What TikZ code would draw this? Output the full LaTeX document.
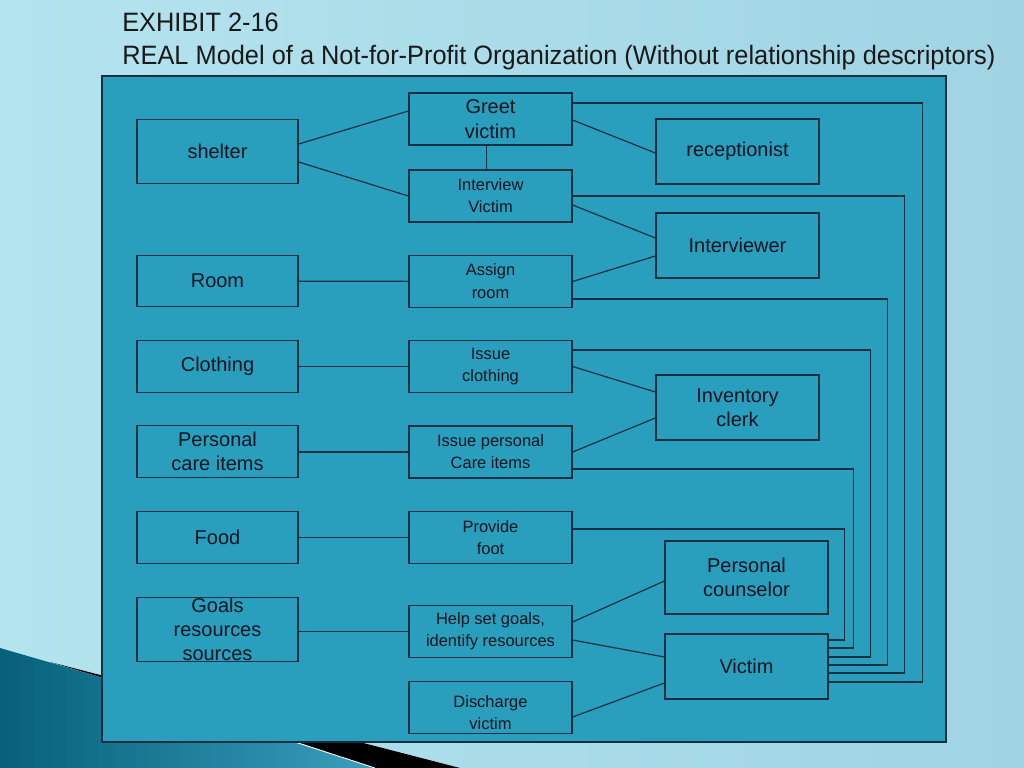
\documentclass[tikz,border=0pt]{standalone}
\usepackage{fontspec}
\setmainfont{Liberation Sans}
\usetikzlibrary{calc}
\definecolor{panelblue}{RGB}{42,159,189}
\definecolor{edgeblue}{RGB}{18,48,66}
\definecolor{inkblue}{RGB}{10,20,32}
\definecolor{skylight}{RGB}{200,238,245}
\definecolor{skyleft}{RGB}{180,228,238}
\definecolor{skyright}{RGB}{160,212,228}
\definecolor{swooshdark}{RGB}{6,96,122}
\definecolor{swooshlight}{RGB}{58,158,188}
\tikzset{
  entity/.style={draw=edgeblue, line width=0.85pt, fill=panelblue, minimum width=4.025cm, minimum height=1.28cm, inner sep=0pt, align=center, text=inkblue, font=\fontsize{14.2}{17}\selectfont},
  process/.style={entity, minimum width=4.075cm, minimum height=1.3cm, font=\fontsize{11.7}{15.5}\selectfont},
  agent/.style={entity, minimum width=4.075cm, minimum height=1.625cm},
  link/.style={draw=edgeblue, line width=0.85pt},
  heading/.style={anchor=base west, inner sep=0pt, text=black!90, font=\fontsize{18.9}{22}\selectfont}
}
\begin{document}
\begin{tikzpicture}[x=0.025cm, y=-0.025cm]
  \useasboundingbox (0,0) rectangle (1024,768);
  \shade[left color=skyleft, middle color=skylight, right color=skyright] (0,0) rectangle (1024,768);
  \fill[black] (50,662) -- (460,768) -- (375,768) -- (100,677) -- cycle;
  \shade[left color=swooshdark, right color=swooshlight] (0,648) -- (100,677) -- (375,768) -- (0,768) -- cycle;
  \draw[white, line width=0.6pt] (295,742) -- (375,768);
  \draw[edgeblue, line width=0.85pt, fill=panelblue] (102,76) rectangle (946,742);

  \node[heading] (exhibit) at (122,32) {\scalebox{0.955}[1]{EXHIBIT 2-16}};
  \node[heading] (caption) at (122,65) {\scalebox{0.955}[1]{REAL Model of a Not-for-Profit Organization (Without relationship descriptors)}};

  \node[entity, minimum height=1.6cm] (shelter) at (217.5,151.5) {shelter};
  \node[entity] (room) at (217.5,281) {Room};
  \node[entity] (clothing) at (217.5,366.5) {Clothing};
  \node[entity] (care) at (217.5,451.5) {Personal\\care items};
  \node[entity] (food) at (217.5,537.5) {Food};
  \node[entity, minimum height=1.6cm] (goals) at (217.5,629.5) {};
  \node[entity, draw=none, fill=none] (goalstext) at (goals.center) {Goals\\resources\\sources};

  \node[process, font=\fontsize{14.2}{17.5}\selectfont] (greet) at (490.5,119) {Greet\\victim};
  \node[process] (interview) at (490.5,196) {Interview\\Victim};
  \node[process, font=\fontsize{11.7}{16.4}\selectfont] (assign) at (490.5,281.5) {Assign\\room};
  \node[process] (issuecl) at (490.5,366.5) {Issue\\clothing};
  \node[process] (issuecare) at (490.5,452) {Issue personal\\Care items};
  \node[process] (provide) at (490.5,537.5) {Provide\\foot};
  \node[process] (help) at (490.5,631.5) {Help set goals,\\identify resources};
  \node[process] (discharge) at (490.5,707.5) {};
  \node[process, draw=none, fill=none] (dischargetext) at ($(discharge.center)+(0,5.5)$) {Discharge\\victim};

  \node[agent] (recep) at (737.5,151.5) {receptionist};
  \node[agent] (interviewer) at (737.5,245.5) {Interviewer};
  \node[agent] (inventory) at (737.5,407.5) {Inventory\\clerk};
  \node[agent, minimum height=1.825cm] (counselor) at (746.5,577.5) {Personal\\counselor};
  \node[agent] (victim) at (746.5,666.5) {Victim};

  \draw[link] ($(shelter.east)+(0,-7.5)$) -- ($(greet.west)+(0,-8)$);
  \draw[link] ($(shelter.east)+(0,10.5)$) -- (interview.west);
  \draw[link] ($(greet.south)+(-4,0)$) -- ($(interview.north)+(-4,0)$);
  \draw[link] (room) -- (assign);
  \draw[link] (clothing) -- (issuecl);
  \draw[link] (issuecare.west) -- (issuecare.west -| care.east);
  \draw[link] (food) -- (provide);
  \draw[link] (help.west) -- (help.west -| goals.east);

  \draw[link] ($(greet.east)+(0,1)$) -- ($(recep.west)+(0,1.5)$);
  \draw[link] ($(interview.east)+(0,9)$) -- ($(interviewer.west)+(0,-7.5)$);
  \draw[link] (assign.east) -- ($(interviewer.west)+(0,10.5)$);
  \draw[link] (issuecl.east) -- ($(inventory.west)+(0,-15.5)$);
  \draw[link] (issuecare.east) -- ($(inventory.west)+(0,10.5)$);
  \draw[link] ($(help.east)+(0,-9.5)$) -- ($(counselor.west)+(0,3.5)$);
  \draw[link] ($(help.east)+(0,8.5)$) -- ($(victim.west)+(0,-9.5)$);
  \draw[link] ($(discharge.east)+(0,9.5)$) -- ($(victim.west)+(0,16.5)$);

  \foreach \src/\dy/\xx/\dv in {greet/-16/922/15.5, interview/0/904/6.5, assign/17.5/887/-1.5, issuecl/-16.5/870/-9.5, issuecare/17/853/-18.5, provide/-8.5/844/-26.5}
    \draw[link] ($(\src.east)+(0,\dy)$) -| ($(victim.east)+(\xx-828,\dv)$) -- ($(victim.east)+(0,\dv)$);
\end{tikzpicture}
\end{document}
